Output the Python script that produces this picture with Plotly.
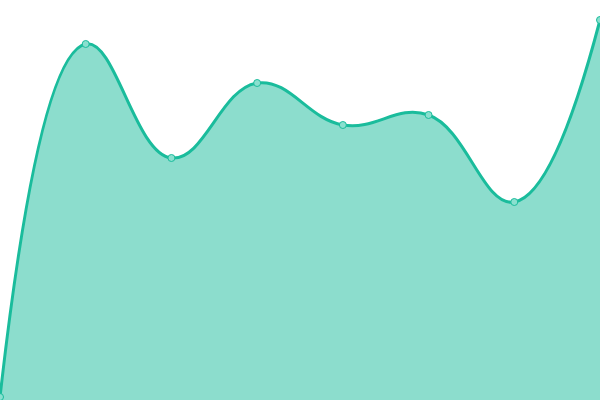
import plotly.graph_objects as go

x_vals = [0, 1, 2, 3, 4, 5, 6, 7]
y_vals = [3, 356, 242, 317, 275, 285, 198, 380]

fig = go.Figure()
fig.add_trace(go.Scatter(
    x=x_vals, y=y_vals,
    mode="lines+markers",
    line=dict(color="#1abc9c", width=3, shape="spline", smoothing=1.2),
    fill="tozeroy",
    fillcolor="rgba(26,188,156,0.5)",
    marker=dict(size=7, color="#8ae0cf", line=dict(color="#1abc9c", width=1)),
    cliponaxis=False,
    hoverinfo="skip",
))
fig.update_layout(
    width=600, height=400,
    margin=dict(l=0, r=0, t=0, b=0),
    paper_bgcolor="white", plot_bgcolor="white",
    showlegend=False,
    xaxis=dict(range=[0, 7], visible=False, fixedrange=True),
    yaxis=dict(range=[0, 400], visible=False, fixedrange=True),
)
fig.write_html("out.html", config={"displayModeBar": False},
               post_script="document.body.style.margin='0';document.body.style.overflow='hidden';")
